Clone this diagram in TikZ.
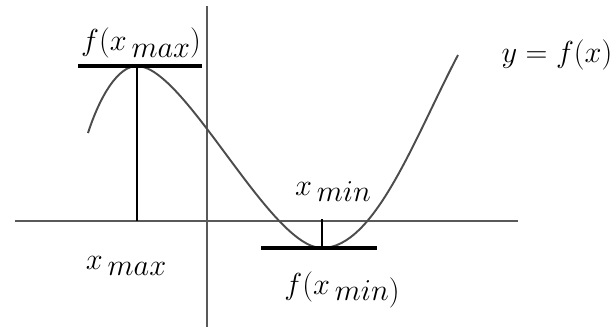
\documentclass[tikz,border=0pt]{standalone}
\newcommand{\lowsub}[1]{\raisebox{-0.5ex}{$#1$}}
\begin{document}
\begin{tikzpicture}[
    x=0.02cm, y=-0.02cm,
    font=\fontsize{17}{20}\selectfont,
    axis/.style={draw=black!65, line width=1.1pt},
    curve/.style={draw=black!70, line width=1.1pt},
    tangent/.style={draw=black, line width=1.8pt},
    drop/.style={draw=black, line width=1pt},
    lbl/.style={inner sep=1pt}
  ]
    \useasboundingbox (0,0) rectangle (613,329);

    \coordinate (xl) at (15,221);
    \coordinate (xr) at (518,221);
    \coordinate (yt) at (207,6);
    \coordinate (yb) at (207,327);
    \draw[axis] (xl) -- (xr);
    \draw[axis] (yt) -- (yb);

    \coordinate (start) at (88,133);
    \coordinate (top) at (137,66);
    \coordinate (bot) at (322,248);
    \coordinate (end) at (458,55);
    \draw[curve] (start) .. controls (100,96) and (118,66) .. (top)
      .. controls (185,66) and (270,248) .. (bot)
      .. controls (375,248) and (415,137) .. (end);

    \coordinate (topL) at (78,66);
    \coordinate (topR) at (202,66);
    \coordinate (topfoot) at (137,221);
    \draw[tangent] (topL) -- (topR);
    \draw[drop] (top) -- (topfoot);

    \coordinate (botL) at (261,248);
    \coordinate (botR) at (377,248);
    \coordinate (botfoot) at (322,219);
    \draw[tangent] (botL) -- (botR);
    \draw[drop] (botfoot) -- (bot);

    \node[lbl] (fmax) at (141,43) {$f(x$\,\lowsub{max}$)$};
    \node[lbl] (xmin) at (333,192) {$x$\,\lowsub{min}};
    \node[lbl] (xmax) at (126,266) {$x$\,\lowsub{max}};
    \node[lbl] (fmin) at (342,290) {$f(x$\,\lowsub{min}\lowsub{)}};
    \node[lbl] (eq) at (557,55) {$y=f(x)$};
  \end{tikzpicture}
\end{document}
